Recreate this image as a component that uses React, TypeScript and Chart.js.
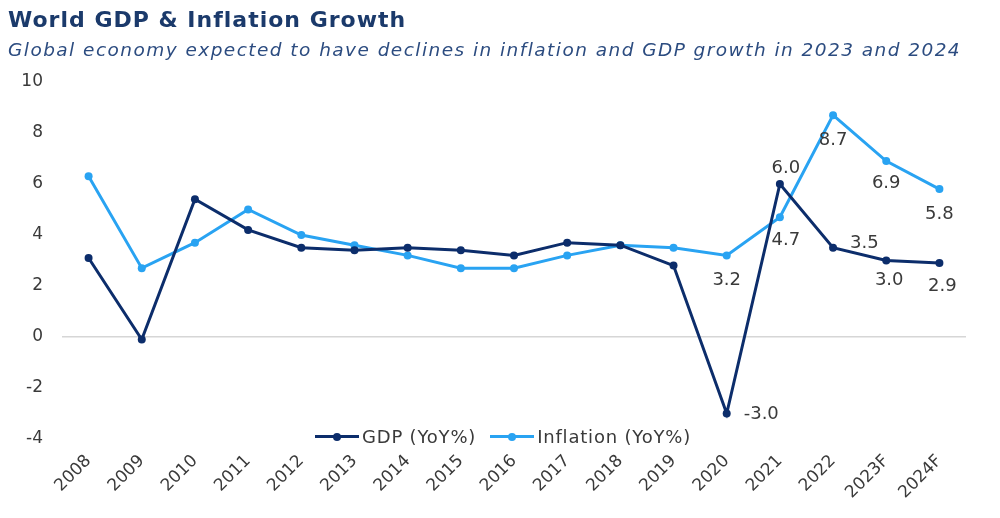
import React, { useEffect, useRef } from "react";
import { Chart, registerables } from "chart.js";

Chart.register(...registerables);

const years = ["2008", "2009", "2010", "2011", "2012", "2013", "2014", "2015", "2016", "2017", "2018", "2019", "2020", "2021", "2022", "2023F", "2024F"];
const gdp = [3.1, -0.1, 5.4, 4.2, 3.5, 3.4, 3.5, 3.4, 3.2, 3.7, 3.6, 2.8, -3.0, 6.0, 3.5, 3.0, 2.9];
const inflation = [6.3, 2.7, 3.7, 5.0, 4.0, 3.6, 3.2, 2.7, 2.7, 3.2, 3.6, 3.5, 3.2, 4.7, 8.7, 6.9, 5.8];
const yTicks = [-4, -2, 0, 2, 4, 6, 8, 10];

const GDP_COLOR = "#0c2d6b";
const INF_COLOR = "#29a3f2";
const FONT = "'DejaVu Sans', sans-serif";
const TEXT = "#3a3a3a";

// label placement (style only) keyed by point index
const gdpLabelStyle: Record<number, { dx: number; dy: number; align: CanvasTextAlign }> = {
  12: { dx: 17, dy: 1, align: "left" },
  13: { dx: 6, dy: -16, align: "center" },
  14: { dx: 17, dy: -4, align: "left" },
  15: { dx: 3, dy: 20, align: "center" },
  16: { dx: 3, dy: 23, align: "center" },
};
const infLabelStyle: Record<number, { dx: number; dy: number; align: CanvasTextAlign }> = {
  12: { dx: 0, dy: 25, align: "center" },
  13: { dx: 6, dy: 23, align: "center" },
  14: { dx: 0, dy: 25, align: "center" },
  15: { dx: 0, dy: 22, align: "center" },
  16: { dx: 0, dy: 25, align: "center" },
};

const labelPlugin = {
  id: "pointLabels",
  afterDatasetsDraw(chart: any) {
    const ctx = chart.ctx;
    ctx.save();
    ctx.font = `18px ${FONT}`;
    ctx.fillStyle = TEXT;
    ctx.textBaseline = "middle";
    const styles = [gdpLabelStyle, infLabelStyle];
    chart.data.datasets.forEach((ds: any, di: number) => {
      const meta = chart.getDatasetMeta(di);
      const st = styles[di];
      Object.keys(st).forEach((k) => {
        const i = Number(k);
        const pt = meta.data[i];
        const s = st[i];
        ctx.textAlign = s.align;
        ctx.fillText(Number(ds.data[i]).toFixed(1), pt.x + s.dx, pt.y + s.dy);
      });
    });
    ctx.restore();
  },
};

function LegendItem({ color, label }: { color: string; label: string }) {
  return (
    <div style={{ display: "flex", alignItems: "center", marginRight: 14 }}>
      <div style={{ position: "relative", width: 44, height: 10, marginRight: 3 }}>
        <div style={{ position: "absolute", left: 0, right: 0, top: 3.5, height: 3, background: color }} />
        <div style={{ position: "absolute", left: 18, top: 1, width: 8, height: 8, borderRadius: 4, background: color }} />
      </div>
      <span>{label}</span>
    </div>
  );
}

export default function App() {
  const ref = useRef<HTMLCanvasElement | null>(null);
  useEffect(() => {
    if (!ref.current) return;
    const chart = new Chart(ref.current, {
      type: "line",
      data: {
        labels: years,
        datasets: [
          {
            label: "GDP (YoY%)",
            data: gdp,
            borderColor: GDP_COLOR,
            backgroundColor: GDP_COLOR,
            borderWidth: 3,
            pointRadius: 4,
            pointBorderWidth: 0,
            tension: 0,
          },
          {
            label: "Inflation (YoY%)",
            data: inflation,
            borderColor: INF_COLOR,
            backgroundColor: INF_COLOR,
            borderWidth: 3,
            pointRadius: 4,
            pointBorderWidth: 0,
            tension: 0,
          },
        ],
      },
      options: {
        animation: false,
        responsive: true,
        maintainAspectRatio: false,
        layout: { padding: { top: 82, left: 0, right: 34, bottom: 0 } },
        plugins: {
          legend: { display: false },
          tooltip: { enabled: false },
        },
        scales: {
          x: {
            offset: true,
            grid: { display: false },
            border: { display: false },
            ticks: {
              font: { family: FONT, size: 17 },
              color: TEXT,
              maxRotation: 45,
              minRotation: 45,
              padding: 4,
            },
            afterFit: (s: any) => {
              s.height = 79;
            },
          },
          y: {
            min: -4,
            max: 10,
            afterBuildTicks: (s: any) => {
              s.ticks = yTicks.map((v) => ({ value: v }));
            },
            grid: {
              color: (c: any) => (c.tick && c.tick.value === 0 ? "#d6d6d6" : "rgba(0,0,0,0)"),
              lineWidth: 1.5,
              drawTicks: false,
            },
            border: { display: false },
            ticks: {
              font: { family: FONT, size: 17 },
              color: TEXT,
              padding: 19,
            },
            afterFit: (s: any) => {
              s.width = 62;
            },
          },
        },
      },
      plugins: [labelPlugin],
    });
    return () => chart.destroy();
  }, []);

  return (
    <div style={{ position: "absolute", left: 0, top: 0, width: 1000, height: 518, background: "#fff", fontFamily: FONT }}>
      <canvas ref={ref} style={{ position: "absolute", left: 0, top: 0, width: 1000, height: 518 }} />
      <div style={{ position: "absolute", left: 8, top: 7, fontSize: 22, letterSpacing: 1, fontWeight: "bold", color: "#1b3a6b", whiteSpace: "nowrap" }}>
        World GDP &amp; Inflation Growth
      </div>
      <div style={{ position: "absolute", left: 8, top: 39, fontSize: 18.5, letterSpacing: 1.45, fontStyle: "italic", color: "#2c4c80", whiteSpace: "nowrap" }}>
        Global economy expected to have declines in inflation and GDP growth in 2023 and 2024
      </div>
      <div style={{ position: "absolute", left: 0, width: 1000, top: 426, display: "flex", justifyContent: "center", fontSize: 18, letterSpacing: 0.8, color: TEXT, paddingLeft: 20, boxSizing: "border-box" }}>
        <LegendItem color={GDP_COLOR} label="GDP (YoY%)" />
        <LegendItem color={INF_COLOR} label="Inflation (YoY%)" />
      </div>
    </div>
  );
}
